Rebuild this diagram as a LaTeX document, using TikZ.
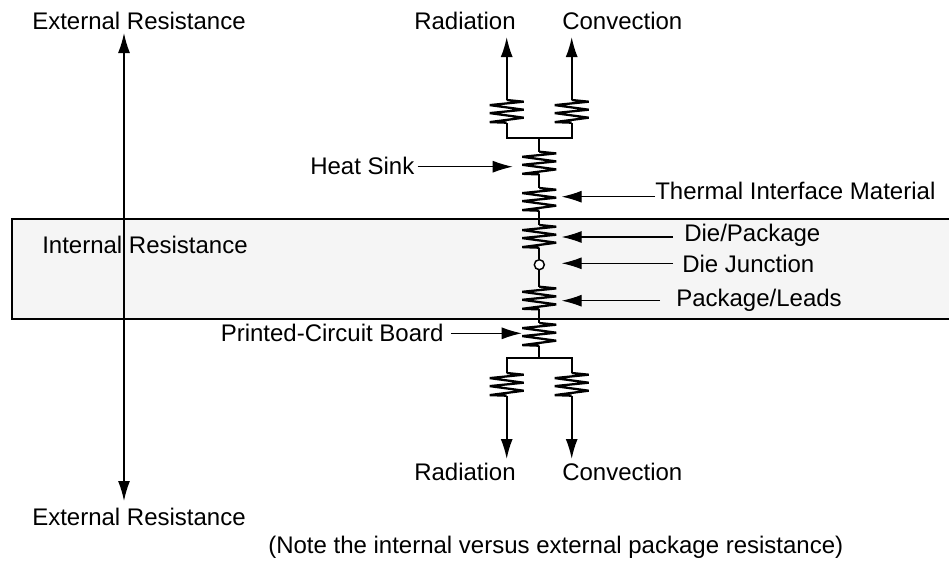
\documentclass[tikz,border=0pt]{standalone}
\usepackage{fontspec}
\setmainfont{Liberation Sans}
\usetikzlibrary{arrows.meta}
\definecolor{bandfill}{HTML}{F5F5F5}
\tikzset{
  wire/.style={line width=1.3pt,line join=miter},
  arr/.style={line width=1.3pt,-{Latex[length=15pt,width=9pt]}},
  harr/.style={line width=0.8pt,-{Latex[length=15pt,width=9pt]}},
  lbl/.style={inner sep=0pt,font=\fontsize{18pt}{20pt}\selectfont,text=black},
}
% name, centre x, top y
\newcommand{\resistor}[3]{%
  \coordinate (#1-t) at (#2,#3);
  \coordinate (#1-b) at (#2,#3+22.7);
  \draw[line width=1.7pt,line join=miter,miter limit=2] (#1-t) -- ++(17,1.7) -- ++(-34,3.4) -- ++(34,4.6) -- ++(-34,3.4) -- ++(34,4.6) -- ++(-34,4.4) -- (#1-b);
}
\begin{document}
\begin{tikzpicture}[x=0.75pt,y=-0.75pt]
\useasboundingbox (0,0) rectangle (949,561);
\node[draw=black,line width=1.3pt,fill=bandfill,inner sep=0pt,anchor=north west,minimum height=75pt,minimum width=720pt] (band) at (11,218) {};
\coordinate (vtop) at (124,33);
\coordinate (vbot) at (124,501);
\draw[line width=1.1pt,{Latex[length=15pt,width=9pt]}-{Latex[length=15pt,width=9pt]}] (vtop) -- (vbot);

\resistor{ra}{506.7}{100}
\resistor{rb}{571.7}{100}
\resistor{hs}{539.3}{151.7}
\resistor{tim}{539.3}{188}
\resistor{die}{539.3}{225}
\resistor{pkg}{539.3}{286.7}
\resistor{pcb}{539.3}{323}
\resistor{rc}{506.7}{373}
\resistor{rd}{571.7}{373}
\node[circle,draw=black,fill=white,line width=1.1pt,minimum size=7.5pt,inner sep=0pt] (dj) at (539.3,264.7) {};

\coordinate (topbar) at (539.3,137.7);
\coordinate (botbar) at (539.3,357.7);
\coordinate (rat) at (506.7,37);
\coordinate (cot) at (571.7,37);
\coordinate (rab) at (506.7,459);
\coordinate (cob) at (571.7,459);
\draw[arr] (ra-t) -- (rat);
\draw[arr] (rb-t) -- (cot);
\draw[wire] (ra-b) |- (topbar) -| (rb-b);
\draw[wire] (topbar) -- (hs-t);
\draw[wire] (hs-b) -- (tim-t);
\draw[wire] (tim-b) -- (die-t);
\draw[wire] (die-b) -- (dj);
\draw[wire] (dj) -- (pkg-t);
\draw[wire] (pkg-b) -- (pcb-t);
\draw[wire] (pcb-b) -- (botbar);
\draw[wire] (rc-t) |- (botbar) -| (rd-t);
\draw[arr] (rc-b) -- (rab);
\draw[arr] (rd-b) -- (cob);

\node[lbl,anchor=base west] (ert) at (32,29) {External Resistance};
\node[lbl,anchor=base west] (erb) at (32,525.7) {External Resistance};
\node[lbl,anchor=base west] (ir) at (42,253.3) {Internal Resistance};
\node[lbl,anchor=base west] (lrt) at (414,29) {Radiation};
\node[lbl,anchor=base west] (lct) at (562,29) {Convection};
\node[lbl,anchor=base west] (lrb) at (414,480) {Radiation};
\node[lbl,anchor=base west] (lcb) at (562,480) {Convection};
\node[lbl,anchor=base west] (lhs) at (310,174) {Heat Sink};
\node[lbl,anchor=base west] (ltim) at (655,199) {Thermal Interface Material};
\node[lbl,anchor=base west] (ldie) at (684,241.7) {Die/Package};
\node[lbl,anchor=base west] (ldj) at (682,272) {Die Junction};
\node[lbl,anchor=base west] (lpkg) at (676,306.7) {Package/Leads};
\node[lbl,anchor=base west] (lpcb) at (220.5,341.7) {Printed-Circuit Board};
\node[lbl,anchor=base west] (note) at (268,553) {(Note the internal versus external package resistance)};

\coordinate (ahs) at (512.7,166.7);
\coordinate (atim) at (561.7,196.7);
\coordinate (adie) at (561.7,237);
\coordinate (adj) at (561.7,263.3);
\coordinate (apkg) at (561.7,300.7);
\coordinate (apcb) at (521.7,333.3);
\draw[harr] (lhs.east |- ahs) ++(3,0) -- (ahs);
\draw[harr] (ltim.west |- atim) -- (atim);
\draw[harr] (ldie.west |- adie) ++(-11,0) -- (adie);
\draw[harr] (ldj.west |- adj) ++(-9,0) -- (adj);
\draw[harr] (lpkg.west |- apkg) ++(-16,0) -- (apkg);
\draw[harr] (lpcb.east |- apcb) ++(7,0) -- (apcb);
\end{tikzpicture}
\end{document}
